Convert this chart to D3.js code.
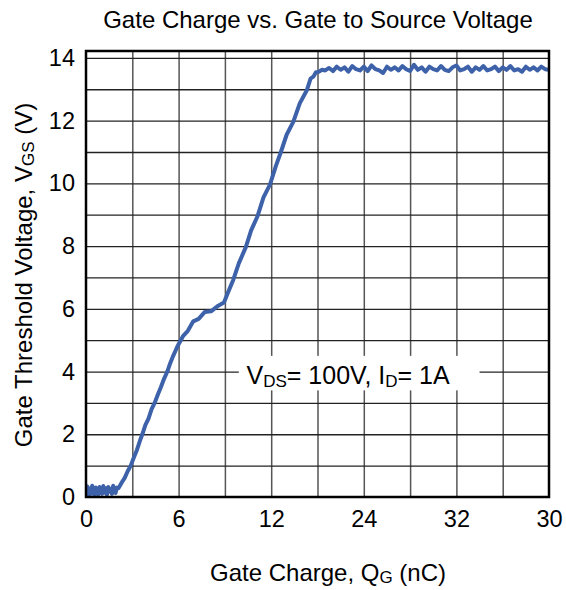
<!DOCTYPE html>
<html>
<head>
<meta charset="utf-8">
<script src="https://cdn.jsdelivr.net/npm/d3@7"></script>
<style>
  body { margin: 0; background: #fff; }
  text { font-family: "Liberation Sans", Arial, sans-serif; fill: #000; }
</style>
</head>
<body>
<svg width="566" height="590"></svg>
<script>
// tick labels as printed on the original
const xTickValues = [0, 6, 12, 18, 24, 30];
const xTickLabels = ["0", "6", "12", "24", "32", "30"];
const yTickValues = [0, 2, 4, 6, 8, 10, 12, 14];

// gate charge (nC)
const qg = [
  0, 0.08, 0.16, 0.24, 0.32, 0.4, 0.48, 0.56, 0.64, 0.72, 0.8, 0.88, 0.96,
  1.04, 1.12, 1.2, 1.28, 1.36, 1.44, 1.52, 1.6, 1.68, 1.76, 1.84, 1.92, 2.0,
  2.1, 2.3, 2.5, 2.7, 2.9, 3.1, 3.3, 3.5, 3.65, 3.85, 4.05, 4.25, 4.45, 4.65,
  4.85, 5.05, 5.27, 5.45, 5.65, 5.85, 6.0, 6.3, 6.6, 6.95, 7.3, 7.7, 8.1, 8.57,
  8.94, 9.2, 9.54, 9.9, 10.35, 10.7, 11.12, 11.5, 11.92, 12.3, 12.6, 13.0, 13.43,
  13.85, 14.3, 14.55, 14.73, 14.9, 15.05, 15.3,
  15.5, 15.75, 16.0, 16.25, 16.5, 16.75, 17.0, 17.25, 17.5, 17.75, 18.0, 18.25,
  18.5, 18.75, 19.0, 19.25, 19.5, 19.75, 20.0, 20.25, 20.5, 20.75, 21.0, 21.25,
  21.5, 21.75, 22.0, 22.25, 22.5, 22.75, 23.0, 23.25, 23.5, 23.75, 24.0, 24.25,
  24.5, 24.75, 25.0, 25.25, 25.5, 25.75, 26.0, 26.25, 26.5, 26.75, 27.0, 27.25,
  27.5, 27.75, 28.0, 28.25, 28.5, 28.75, 29.0, 29.25, 29.5, 29.75, 30.0
];
// gate-source voltage (V) at each point above
const vgs = [
  0.15, 0.34, 0.06, 0.27, 0.1, 0.36, 0.16, 0.04, 0.3, 0.2, 0.08, 0.32, 0.22,
  0.1, 0.35, 0.14, 0.28, 0.07, 0.32, 0.17, 0.26, 0.1, 0.36, 0.2, 0.13, 0.3,
  0.28, 0.45, 0.6, 0.82, 1.0, 1.26, 1.5, 1.8, 2.0, 2.3, 2.5, 2.8, 3.0, 3.26,
  3.5, 3.76, 4.0, 4.26, 4.5, 4.72, 4.87, 5.14, 5.3, 5.6, 5.68, 5.9, 5.92, 6.1,
  6.2, 6.52, 6.92, 7.45, 7.96, 8.5, 8.96, 9.55, 9.96, 10.55, 10.96, 11.55, 11.96,
  12.55, 12.96, 13.34, 13.4, 13.54, 13.55, 13.62,
  13.6, 13.68, 13.58, 13.72, 13.62, 13.7, 13.56, 13.74, 13.64, 13.6, 13.72, 13.58,
  13.76, 13.64, 13.6, 13.52, 13.72, 13.62, 13.7, 13.6, 13.74, 13.64, 13.58, 13.78,
  13.62, 13.7, 13.56, 13.72, 13.64, 13.6, 13.74, 13.62, 13.58, 13.7, 13.76, 13.6,
  13.64, 13.72, 13.56, 13.7, 13.62, 13.74, 13.6, 13.64, 13.72, 13.58, 13.7, 13.62,
  13.74, 13.6, 13.64, 13.56, 13.72, 13.62, 13.7, 13.6, 13.72, 13.64, 13.62
];

const data = qg.map((q, i) => ({q: q, v: vgs[i]}));

const svg = d3.select("svg");
const margin = {left: 86, right: 17, top: 51, bottom: 93};
const W = +svg.attr("width");
const H = +svg.attr("height");
const width = W - margin.left - margin.right;
const height = H - margin.top - margin.bottom;

const xScale = d3.scaleLinear().domain([0, 30]).range([margin.left, margin.left + width]);
const yScale = d3.scaleLinear().domain([0, 14.22]).range([margin.top + height, margin.top]);

// grid
svg.append("g")
  .attr("transform", "translate(0," + (margin.top + height) + ")")
  .call(d3.axisBottom(xScale).tickValues(d3.range(3, 30, 3)).tickSize(-height).tickFormat(""))
  .call(g => g.select(".domain").remove())
  .call(g => g.selectAll("line").attr("stroke", "#555").attr("stroke-width", 1.5));

svg.append("g")
  .attr("transform", "translate(" + margin.left + ",0)")
  .call(d3.axisLeft(yScale).tickValues(d3.range(1, 15, 1)).tickSize(-width).tickFormat(""))
  .call(g => g.select(".domain").remove())
  .call(g => g.selectAll("line").attr("stroke", "#222").attr("stroke-width", 1.3));

// trace
svg.append("clipPath").attr("id", "plot")
  .append("rect")
  .attr("x", margin.left).attr("y", margin.top)
  .attr("width", width).attr("height", height);

const line = d3.line().x(d => xScale(d.q)).y(d => yScale(d.v));
svg.append("path")
  .datum(data)
  .attr("clip-path", "url(#plot)")
  .attr("fill", "none")
  .attr("stroke", "#3d62a9")
  .attr("stroke-width", 4)
  .attr("stroke-linejoin", "round")
  .attr("d", line);

// annotation box
svg.append("rect")
  .attr("x", xScale(9.9)).attr("y", yScale(4.5))
  .attr("width", xScale(25.5) - xScale(9.9)).attr("height", yScale(3.4) - yScale(4.5))
  .attr("fill", "#fff");

const note = svg.append("text")
  .attr("x", xScale(10.4)).attr("y", yScale(3.6))
  .style("font-size", "25px");
note.append("tspan").text("V");
note.append("tspan").text("DS").style("font-size", "17px").attr("dy", 3);
note.append("tspan").text("= 100V, I").attr("dy", -3);
note.append("tspan").text("D").style("font-size", "17px").attr("dy", 3);
note.append("tspan").text("= 1A").attr("dy", -3);

// frame
svg.append("rect")
  .attr("x", margin.left).attr("y", margin.top)
  .attr("width", width).attr("height", height)
  .attr("fill", "none").attr("stroke", "#000").attr("stroke-width", 2.5);

// tick labels
svg.append("g")
  .attr("transform", "translate(0," + (margin.top + height) + ")")
  .call(d3.axisBottom(xScale).tickValues(xTickValues).tickSize(0).tickPadding(13)
    .tickFormat((d, i) => xTickLabels[i]))
  .call(g => g.select(".domain").remove())
  .call(g => g.selectAll("text").style("font-size", "23.5px")
    .style("font-family", "'Liberation Sans', Arial, sans-serif").attr("fill", "#000"));

svg.append("g")
  .attr("transform", "translate(" + margin.left + ",0)")
  .call(d3.axisLeft(yScale).tickValues(yTickValues).tickSize(0).tickPadding(11))
  .call(g => g.select(".domain").remove())
  .call(g => g.selectAll("text").style("font-size", "23.5px")
    .style("font-family", "'Liberation Sans', Arial, sans-serif").attr("fill", "#000"));

// title
svg.append("text")
  .attr("x", 318).attr("y", 28)
  .attr("text-anchor", "middle")
  .style("font-size", "24px")
  .text("Gate Charge vs. Gate to Source Voltage");

// x label
const xl = svg.append("text")
  .attr("x", 328).attr("y", 581)
  .attr("text-anchor", "middle")
  .style("font-size", "24px");
xl.append("tspan").text("Gate Charge, Q");
xl.append("tspan").text("G").style("font-size", "17px").attr("dy", 2);
xl.append("tspan").text(" (nC)").attr("dy", -2);

// y label
const yl = svg.append("text")
  .attr("transform", "translate(32,275) rotate(-90)")
  .attr("text-anchor", "middle")
  .style("font-size", "24px");
yl.append("tspan").text("Gate Threshold Voltage, V");
yl.append("tspan").text("GS").style("font-size", "17px").attr("dy", 2);
yl.append("tspan").text(" (V)").attr("dy", -2);
</script>
</body>
</html>
